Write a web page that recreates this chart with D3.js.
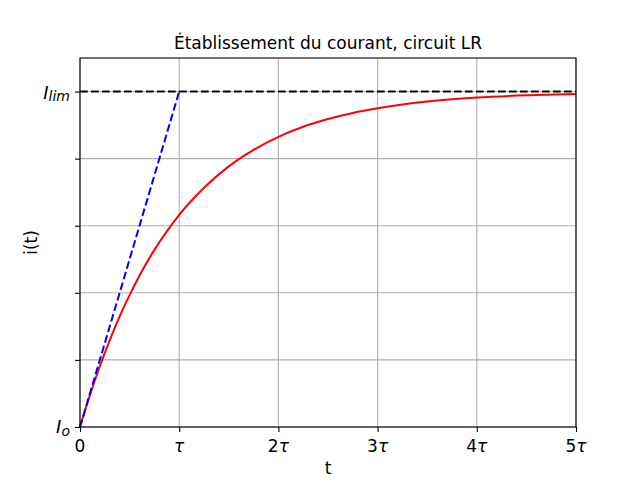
<!DOCTYPE html>
<html lang="fr">
<head>
<meta charset="UTF-8">
<title>Établissement du courant, circuit LR</title>
<style>
  body { margin: 0; background: #fff; }
  svg { font-family: "DejaVu Sans", sans-serif; }
</style>
</head>
<body>
<div id="chart"></div>
<script src="https://d3js.org/d3.v7.min.js"></script>
<script>
// Values (t in units of tau, i in units of I_lim)
const tValues = [0, 0.1, 0.2, 0.3, 0.4, 0.5, 0.625, 0.75, 0.875, 1, 1.25, 1.5, 1.75, 2, 2.25, 2.5, 2.75, 3, 3.5, 4, 4.5, 5];
const iValues = [0, 0.095, 0.181, 0.259, 0.33, 0.393, 0.465, 0.528, 0.583, 0.632, 0.713, 0.777, 0.826, 0.865, 0.895, 0.918, 0.936, 0.95, 0.97, 0.982, 0.989, 0.993];
const tangentT = [0, 1];
const tangentI = [0, 1];
const limitT = [0, 5];
const limitI = [1, 1];
const xTicks = [0, 1, 2, 3, 4, 5];
const xTickPrefix = ["0", "", "2", "3", "4", "5"];
const yTicks = [0, 0.2, 0.4, 0.6, 0.8, 1];

const width = 640, height = 480;
const margin = { left: 80, right: 64, top: 58, bottom: 53 };

const svg = d3.select("#chart").append("svg")
    .attr("width", width)
    .attr("height", height);

const x = d3.scaleLinear().domain([0, 5]).range([margin.left, width - margin.right]);
const y = d3.scaleLinear().domain([0, 1.1]).range([height - margin.bottom, margin.top]);

// grid
svg.append("g").selectAll("line").data(xTicks).join("line")
    .attr("x1", d => x(d)).attr("x2", d => x(d))
    .attr("y1", y(0)).attr("y2", y(1.1))
    .attr("stroke", "#b0b0b0").attr("stroke-width", 1.1);
svg.append("g").selectAll("line").data(yTicks).join("line")
    .attr("x1", x(0)).attr("x2", x(5))
    .attr("y1", d => y(d)).attr("y2", d => y(d))
    .attr("stroke", "#b0b0b0").attr("stroke-width", 1.1);

const line = d3.line().x(d => x(d[0])).y(d => y(d[1]));

// red curve
svg.append("path")
    .datum(d3.zip(tValues, iValues))
    .attr("d", line.curve(d3.curveMonotoneX))
    .attr("fill", "none").attr("stroke", "red").attr("stroke-width", 2);

// tangent at origin
svg.append("path")
    .datum(d3.zip(tangentT, tangentI))
    .attr("d", d3.line().x(d => x(d[0])).y(d => y(d[1])))
    .attr("fill", "none").attr("stroke", "blue").attr("stroke-width", 2)
    .attr("stroke-dasharray", "7.7,3.3");

// limit
svg.append("path")
    .datum(d3.zip(limitT, limitI))
    .attr("d", d3.line().x(d => x(d[0])).y(d => y(d[1])))
    .attr("fill", "none").attr("stroke", "black").attr("stroke-width", 2)
    .attr("stroke-dasharray", "7.7,3.3");

// axes
const xAxis = d3.axisBottom(x).tickValues(xTicks).tickFormat("").tickSize(5);
const gx = svg.append("g").attr("transform", `translate(0,${y(0)})`).call(xAxis);
gx.select(".domain").remove();
gx.selectAll(".tick line").attr("stroke-width", 1.1);

const xl = svg.append("g").attr("font-size", 17).attr("text-anchor", "middle");
xTicks.forEach((d, i) => {
  const t = xl.append("text").attr("x", x(d)).attr("y", y(0) + 25);
  if (xTickPrefix[i]) t.append("tspan").text(xTickPrefix[i]);
  if (d > 0) t.append("tspan").attr("font-style", "italic").text("τ");
});

const yAxis = d3.axisLeft(y).tickValues(yTicks).tickFormat("").tickSize(5);
const gy = svg.append("g").attr("transform", `translate(${x(0)},0)`).call(yAxis);
gy.select(".domain").remove();
gy.selectAll(".tick line").attr("stroke-width", 1.1);

// y tick labels (math style)
const yl = svg.append("g").attr("font-size", 18).attr("text-anchor", "end");
const lim = yl.append("text").attr("x", x(0) - 10).attr("y", y(1) + 7);
lim.append("tspan").attr("font-style", "italic").text("I");
lim.append("tspan").attr("font-style", "italic").attr("font-size", 14).attr("dy", 2).text("lim");
const io = yl.append("text").attr("x", x(0) - 10).attr("y", y(0) + 6);
io.append("tspan").attr("font-style", "italic").text("I");
io.append("tspan").attr("font-style", "italic").attr("font-size", 14).attr("dy", 3).text("o");

// frame
svg.append("rect")
    .attr("x", x(0)).attr("y", y(1.1))
    .attr("width", x(5) - x(0)).attr("height", y(0) - y(1.1))
    .attr("fill", "none").attr("stroke", "black").attr("stroke-width", 1.1);

// labels
svg.append("text").attr("x", (x(0) + x(5)) / 2).attr("y", 474)
    .attr("text-anchor", "middle").attr("font-size", 17).text("t");
svg.append("text").attr("transform", `translate(37,${(y(0) + y(1.1)) / 2}) rotate(-90)`)
    .attr("text-anchor", "middle").attr("font-size", 17).text("i(t)");
svg.append("text").attr("x", (x(0) + x(5)) / 2).attr("y", 49)
    .attr("text-anchor", "middle").attr("font-size", 17).text("Établissement du courant, circuit LR");
</script>
</body>
</html>
